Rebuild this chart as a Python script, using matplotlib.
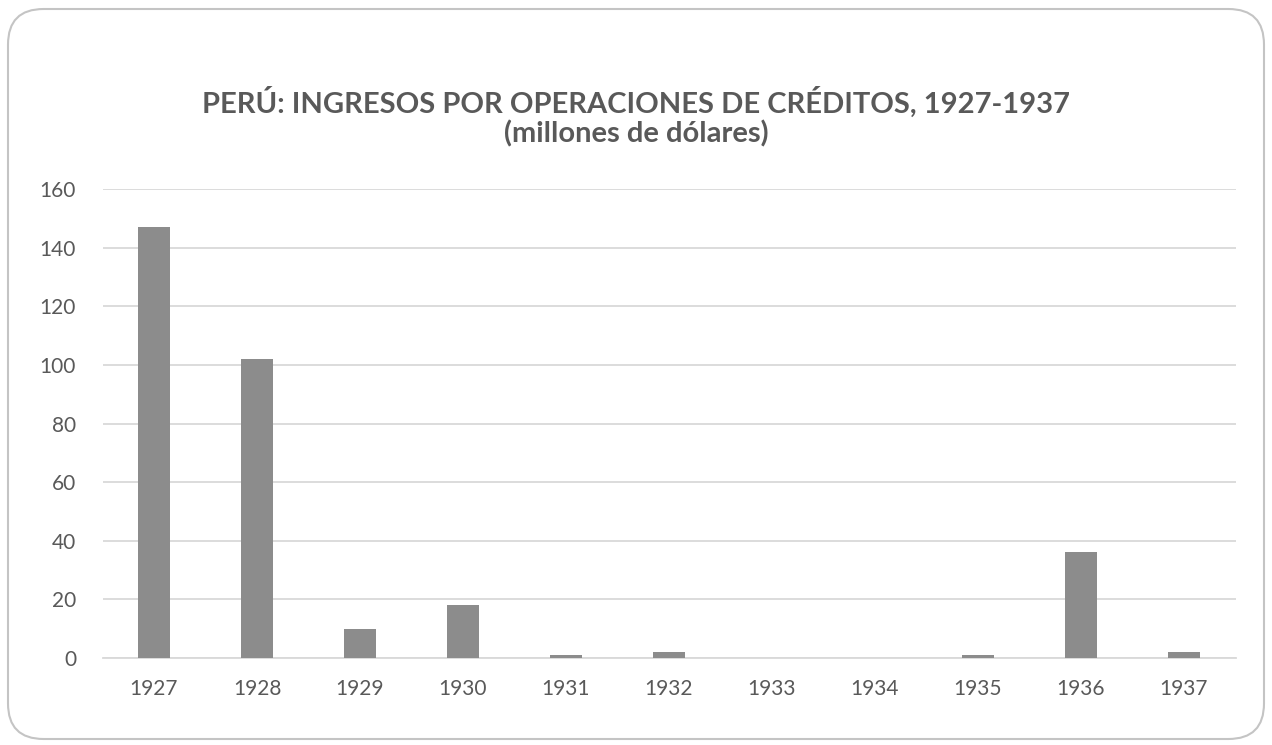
import matplotlib
matplotlib.use('Agg')
import matplotlib.pyplot as plt
from matplotlib.patches import FancyBboxPatch

# datos (millones de dolares)
years = ['1927', '1928', '1929', '1930', '1931', '1932', '1933', '1934', '1935', '1936', '1937']
values = [147, 102, 10, 18, 1, 2, 0, 0, 1, 36, 2]
yticks = [0, 20, 40, 60, 80, 100, 120, 140, 160]

plt.rcParams['font.family'] = ['Lato', 'DejaVu Sans']
txtColor = '#595959'

fig = plt.figure(figsize=(12.72, 7.45), dpi=100)

# marco redondeado
frame = FancyBboxPatch((8/1272, 6/745), 1256/1272, 730/745,
                       boxstyle='round,pad=0,rounding_size=0.028',
                       transform=fig.transFigure, facecolor='white',
                       edgecolor='#c4c4c4', linewidth=1.5, mutation_aspect=1272/745,
                       zorder=-5)
fig.patches.append(frame)

ax = fig.add_axes([102.5/1272, (745-658)/745, (1235.5-102.5)/1272, (658-189)/745])
ax.set_zorder(2)
ax.set_facecolor('none')
x = range(len(years))
ax.bar(x, values, width=0.31, color='#8c8c8c', zorder=3)
ax.set_xlim(-0.5, len(years)-0.5)
ax.set_ylim(0, 160)
ax.set_yticks(yticks)
ax.set_xticks(list(x))
ax.set_xticklabels(years)
ax.yaxis.grid(True, color='#d9d9d9', linewidth=1.3, zorder=0)
for s in ['top', 'right', 'left']:
    ax.spines[s].set_visible(False)
ax.spines['bottom'].set_color('#d9d9d9')
ax.spines['bottom'].set_linewidth(1.3)
ax.tick_params(axis='both', length=0, labelsize=15, colors=txtColor)
ax.tick_params(axis='x', pad=15)
ax.tick_params(axis='y', pad=19)

fig.text(0.5, 1-102/745, 'PERÚ: INGRESOS POR OPERACIONES DE CRÉDITOS, 1927-1937',
         ha='center', va='center', fontsize=21, fontweight='bold', color=txtColor, zorder=3)
fig.text(0.5, 1-134/745, '(millones de dólares)',
         ha='center', va='center', fontsize=21, fontweight='bold', color=txtColor, zorder=3)

fig.savefig('out.png', dpi=100)
